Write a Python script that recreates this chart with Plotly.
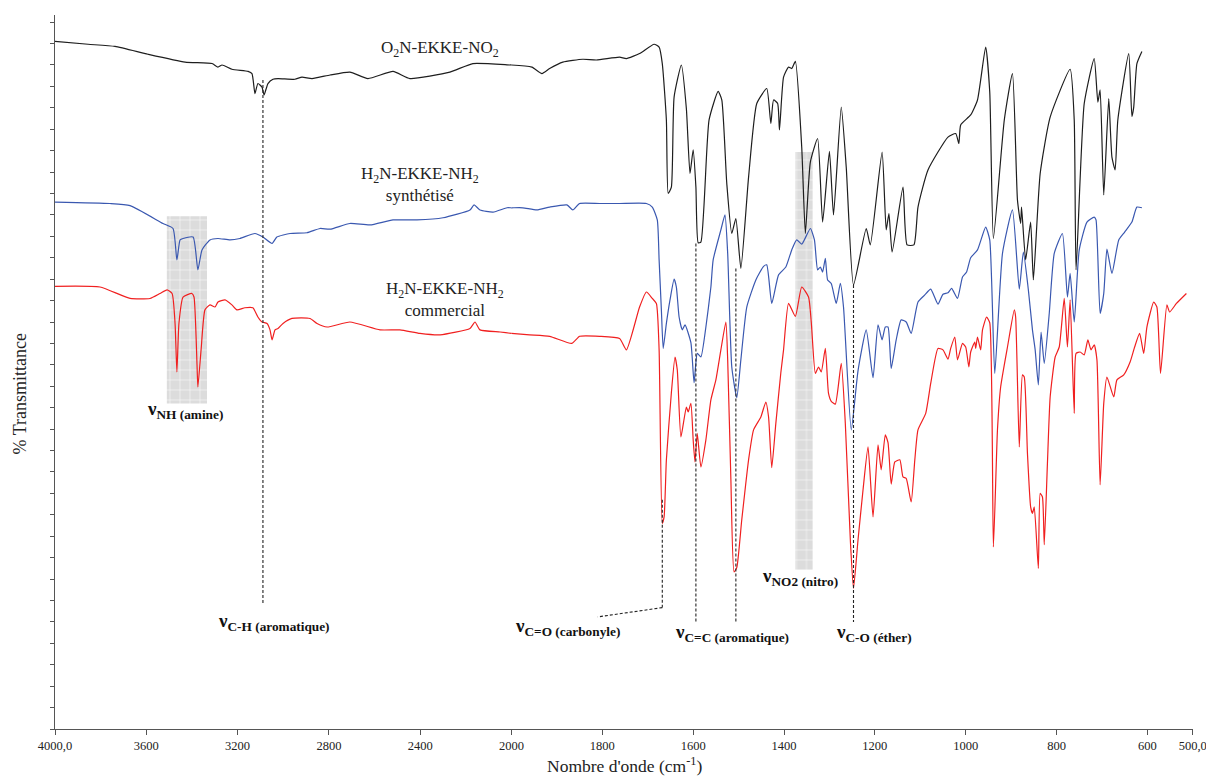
import plotly.graph_objects as go

# wavenumbers (cm-1) and % transmittance
black_wn = [4000, 3855, 3737, 3593, 3430, 3312, 3286, 3268, 3225, 3154, 3137, 3124, 3111, 3093, 3084,
            3067, 3045, 3023, 2949, 2918, 2874, 2795, 2708, 2629, 2519, 2445, 2270, 2169, 2007, 2000,
            1955, 1933, 1916, 1887, 1843, 1813, 1762, 1747, 1718, 1686, 1675, 1668, 1659, 1655, 1648,
            1642, 1626, 1615, 1607, 1600, 1594, 1589, 1583, 1565, 1545, 1537, 1526, 1515, 1506, 1495,
            1478, 1460, 1438, 1429, 1423, 1414, 1410, 1401, 1390, 1383, 1375, 1361, 1353, 1342, 1326,
            1315, 1300, 1291, 1274, 1263, 1247, 1219, 1210, 1184, 1175, 1169, 1162, 1138, 1129, 1114,
            1105, 1083, 1039, 1022, 1015, 1011, 989, 974, 956, 947, 939, 915, 897, 886, 879, 877, 868,
            857, 851, 836, 814, 770, 761, 757, 739, 717, 709, 704, 696, 685, 678, 671, 665, 641, 634,
            630, 623, 612]
black_t = [96.3, 95.9, 95.6, 94.5, 93.4, 93.2, 92.7, 93.0, 92.4, 92.1, 91.8, 89.0, 90.4, 89.9, 88.8,
           90.4, 91.0, 91.1, 91.0, 91.3, 91.1, 91.6, 92.0, 91.1, 92.1, 91.1, 92.0, 93.2, 93.0, 93.0,
           92.7, 91.8, 92.5, 93.4, 93.8, 93.7, 94.1, 93.9, 94.6, 95.9, 95.5, 93.2, 85.3, 75.0, 75.9,
           88.5, 93.0, 86.9, 77.8, 81.1, 75.9, 68.1, 68.2, 85.3, 89.3, 88.1, 76.4, 69.4, 71.5, 64.5,
           77.3, 87.6, 89.7, 84.8, 88.1, 87.6, 83.9, 91.3, 92.7, 92.5, 93.5, 81.5, 69.4, 79.4, 82.7,
           71.0, 80.9, 72.0, 87.1, 78.7, 62.2, 70.1, 67.8, 80.8, 69.9, 72.2, 66.8, 75.9, 67.8, 67.8,
           73.1, 78.3, 82.9, 83.4, 82.0, 84.6, 86.0, 88.1, 95.5, 89.2, 68.7, 85.3, 91.8, 74.1, 70.8,
           73.1, 65.7, 71.0, 62.9, 77.8, 85.7, 92.4, 85.3, 64.3, 87.6, 93.9, 87.8, 89.5, 74.8, 88.3,
           80.1, 78.3, 85.3, 94.6, 85.8, 87.1, 93.2, 94.9]

blue_wn = [4000, 3759, 3671, 3527, 3483, 3466, 3452, 3439, 3395, 3374, 3356, 3321, 3286, 3233, 3190,
           3124, 3089, 3049, 3028, 2970, 2896, 2839, 2795, 2708, 2620, 2519, 2414, 2300, 2182, 2164,
           2138, 2081, 2020, 2000, 1975, 1944, 1916, 1878, 1865, 1850, 1806, 1762, 1703, 1690, 1679,
           1675, 1670, 1666, 1659, 1651, 1642, 1637, 1631, 1624, 1618, 1605, 1598, 1591, 1583, 1572,
           1561, 1556, 1539, 1530, 1524, 1515, 1504, 1495, 1482, 1462, 1445, 1438, 1427, 1412, 1396,
           1383, 1372, 1361, 1342, 1333, 1326, 1320, 1315, 1309, 1304, 1296, 1285, 1276, 1269, 1252,
           1237, 1219, 1204, 1193, 1184, 1177, 1171, 1164, 1153, 1142, 1131, 1120, 1105, 1090, 1077,
           1061, 1050, 1039, 1031, 1018, 1007, 998, 989, 974, 956, 947, 936, 919, 897, 882, 873, 862,
           853, 847, 840, 834, 827, 816, 805, 787, 776, 770, 761, 750, 733, 717, 713, 704, 696, 689,
           678, 663, 650, 634, 623, 612]
blue_t = [73.8, 73.6, 73.3, 70.8, 70.1, 65.7, 68.5, 68.7, 68.9, 64.3, 67.1, 68.5, 68.7, 68.5, 68.7,
          69.4, 68.9, 68.0, 68.9, 69.4, 69.5, 70.1, 70.0, 70.8, 70.6, 71.3, 71.3, 71.6, 72.7, 73.4,
          72.7, 72.4, 73.0, 73.0, 73.0, 72.7, 73.1, 73.4, 72.7, 73.6, 73.6, 73.6, 73.6, 73.1, 71.3,
          65.7, 58.7, 53.3, 56.8, 60.1, 63.0, 61.9, 57.7, 55.9, 56.6, 54.1, 48.5, 52.6, 52.1, 56.3,
          61.9, 65.7, 69.9, 72.0, 66.6, 50.7, 46.4, 51.7, 59.1, 62.9, 64.8, 65.0, 59.6, 63.6, 64.7,
          67.1, 68.5, 67.9, 70.1, 68.5, 64.3, 64.7, 64.0, 65.9, 62.9, 62.4, 59.6, 62.4, 59.1, 41.9,
          50.2, 55.9, 49.2, 56.6, 54.5, 56.3, 56.3, 50.5, 54.5, 57.3, 57.0, 55.4, 59.8, 60.8, 61.6,
          59.5, 60.9, 61.1, 61.7, 60.3, 63.3, 64.0, 66.0, 67.1, 70.3, 68.5, 49.8, 66.6, 72.7, 61.6,
          66.8, 61.5, 55.9, 53.1, 48.2, 55.6, 51.2, 58.2, 66.6, 69.4, 60.5, 63.8, 57.0, 67.1, 71.0,
          71.7, 71.3, 58.2, 61.0, 67.2, 63.8, 68.5, 69.6, 71.0, 73.1, 73.0]

red_wn = [4000, 3803, 3671, 3584, 3540, 3509, 3487, 3474, 3466, 3457, 3439, 3400, 3391, 3378, 3374,
          3360, 3343, 3321, 3299, 3286, 3255, 3225, 3203, 3168, 3133, 3111, 3093, 3071, 3058, 3049,
          3036, 3023, 3001, 2962, 2883, 2852, 2808, 2708, 2576, 2489, 2401, 2313, 2182, 2160, 2138,
          2050, 2000, 1960, 1916, 1867, 1850, 1806, 1762, 1747, 1718, 1703, 1690, 1681, 1675, 1668,
          1664, 1659, 1648, 1640, 1635, 1627, 1615, 1611, 1605, 1600, 1596, 1591, 1583, 1572, 1561,
          1550, 1539, 1528, 1524, 1517, 1510, 1504, 1493, 1478, 1467, 1451, 1440, 1434, 1427, 1418,
          1407, 1401, 1390, 1375, 1361, 1346, 1340, 1331, 1324, 1318, 1309, 1302, 1296, 1287, 1274,
          1265, 1254, 1247, 1237, 1226, 1215, 1204, 1193, 1186, 1177, 1171, 1164, 1156, 1145, 1138,
          1131, 1120, 1112, 1105, 1088, 1077, 1061, 1050, 1039, 1033, 1024, 1018, 1007, 1000, 993,
          989, 980, 978, 974, 967, 963, 954, 947, 939, 930, 923, 908, 893, 890, 882, 875, 871, 864,
          857, 853, 849, 840, 836, 831, 827, 820, 814, 803, 794, 783, 776, 770, 761, 757, 748, 739,
          731, 724, 717, 711, 704, 696, 689, 674, 667, 652, 638, 628, 617, 608, 601, 586, 579, 571,
          557, 551, 536, 514]
red_t = [62.0, 61.9, 60.3, 60.3, 61.0, 61.5, 61.0, 56.8, 50.0, 56.8, 60.5, 61.0, 60.5, 51.2, 47.9,
         53.1, 58.7, 59.4, 59.1, 59.8, 60.1, 59.4, 58.7, 59.0, 59.0, 57.7, 57.0, 56.8, 55.9, 54.5,
         55.9, 56.1, 56.8, 57.5, 57.5, 56.8, 56.3, 57.0, 55.9, 55.9, 55.4, 55.2, 56.1, 57.0, 55.9,
         55.6, 55.4, 55.2, 55.0, 54.0, 55.0, 55.0, 54.7, 53.1, 59.1, 61.2, 60.3, 59.6, 53.1, 28.8,
         29.7, 37.7, 47.1, 52.1, 50.3, 40.9, 45.1, 44.4, 45.6, 40.5, 37.4, 41.4, 36.7, 40.5, 46.1,
         48.9, 53.1, 57.0, 51.7, 35.0, 22.0, 22.6, 29.3, 37.7, 41.9, 43.7, 45.8, 43.7, 36.6, 42.8,
         49.9, 53.1, 59.6, 57.8, 61.9, 60.5, 57.0, 49.8, 50.7, 50.0, 53.3, 47.0, 45.9, 45.5, 51.2,
         42.8, 26.5, 19.7, 26.5, 33.5, 39.5, 29.7, 39.8, 36.3, 41.2, 40.1, 34.3, 37.4, 37.7, 35.3,
         35.1, 31.8, 37.7, 41.9, 44.2, 48.4, 53.3, 53.1, 51.8, 53.3, 54.9, 51.7, 54.0, 53.5, 50.7,
         52.8, 54.2, 53.3, 54.9, 53.1, 55.9, 57.7, 56.9, 25.5, 41.9, 47.9, 53.5, 58.7, 57.7, 39.5,
         49.6, 49.3, 38.6, 31.1, 30.2, 31.1, 22.5, 33.0, 32.5, 25.8, 37.2, 46.5, 52.1, 53.5, 60.3,
         53.5, 60.1, 44.2, 52.6, 52.8, 52.4, 54.5, 53.1, 53.8, 51.7, 34.2, 45.6, 49.3, 46.5, 48.9,
         49.6, 51.4, 53.5, 55.4, 52.6, 56.3, 59.8, 59.1, 49.8, 59.4, 58.4, 59.6, 61.0]

left_ticks = [4000, 3600, 3200, 2800, 2400]
left_labels = ["4000,0", "3600", "3200", "2800", "2400"]
right_ticks = [2000, 1800, 1600, 1400, 1200, 1000, 800, 600, 500]
right_labels = ["2000", "1800", "1600", "1400", "1200", "1000", "800", "600", "500,0"]

# band markers: (wavenumber, T top, T bottom)
band_lines = [(3089, 90.9, 17.4), (1668, 32.1, 17.0), (1594, 68.0, 15.0), (1506, 64.5, 15.0), (1247, 62.2, 15.0)]
# highlighted zones: (wn high, wn low, T top, T bottom)
nh_box = (3510, 3334, 71.8, 45.6)
no2_box = (1375, 1337, 80.8, 22.3)

FONT = "Liberation Serif"
COLORS = {"black": "#1e1e1e", "blue": "#3a58b0", "red": "#f02020"}

fig = go.Figure()


def add_series(wn, t, color):
    pts = list(zip(wn, t))
    n_left = sum(1 for w in wn if w >= 2000)
    # each half runs one point past the 2000 break so the clipped lines meet
    left = pts[:n_left + 1]
    right = pts[n_left - 2:]
    for seg, xa in ((left, "x"), (right, "x2")):
        fig.add_trace(go.Scatter(
            x=[p[0] for p in seg], y=[p[1] for p in seg],
            xaxis=xa, yaxis="y", mode="lines",
            line=dict(color=color, width=1.2, shape="spline", smoothing=0.5),
            showlegend=False, hoverinfo="skip",
        ))


add_series(black_wn, black_t, COLORS["black"])
add_series(blue_wn, blue_t, COLORS["blue"])
add_series(red_wn, red_t, COLORS["red"])

# grey hatched zones drawn over the spectra
for box, xa in ((nh_box, "x"), (no2_box, "x2")):
    fig.add_trace(go.Bar(
        x=[(box[0] + box[1]) / 2], y=[box[2] - box[3]], base=[box[3]], width=[box[0] - box[1]],
        xaxis=xa, yaxis="y", opacity=0.6, showlegend=False, hoverinfo="skip",
        marker=dict(color="#c4c4c4", line=dict(width=0),
                    pattern=dict(shape="+", fgcolor="#f4f4f4", bgcolor="#c4c4c4",
                                 size=10, solidity=0.12, fillmode="replace")),
    ))

dash_style = dict(color="#222222", width=1.1, dash="3px,2px")
for wn, top, bottom in band_lines:
    xr = "x" if wn > 2000 else "x2"
    fig.add_shape(type="line", xref=xr, yref="y", x0=wn, x1=wn, y0=top, y1=bottom, line=dash_style)
# leader from the carbonyl line to its label
fig.add_shape(type="line", xref="x2", yref="y", x0=1668, x1=1810, y0=17.0, y1=15.7, line=dash_style)

band_labels = [
    ("x", 3041, 15.0, "C-H (aromatique)"),
    ("x", 3430, 44.7, "NH (amine)"),
    ("x2", 1876, 14.3, "C=O (carbonyle)"),
    ("x2", 1515, 13.4, "C=C (aromatique)"),
    ("x2", 1202, 13.4, "C-O (éther)"),
    ("x2", 1364, 21.3, "NO2 (nitro)"),
]
for xr, x, y, sub in band_labels:
    fig.add_annotation(xref=xr, yref="y", x=x, y=y, showarrow=False,
                       text=f"<b>ν<sub>{sub}</sub></b>",
                       font=dict(family=FONT, size=19, color="#111111"))

series_labels = [
    ("x", 2313, 95.3, "O<sub>2</sub>N-EKKE-NO<sub>2</sub>"),
    ("x", 2401, 76.2, "H<sub>2</sub>N-EKKE-NH<sub>2</sub><br>synthétisé"),
    ("x", 2291, 60.1, "H<sub>2</sub>N-EKKE-NH<sub>2</sub><br>commercial"),
]
for xr, x, y, txt in series_labels:
    fig.add_annotation(xref=xr, yref="y", x=x, y=y, showarrow=False, text=txt,
                       font=dict(family=FONT, size=17, color="#222222"))

fig.add_annotation(xref="paper", yref="paper", x=0.5, y=0, yshift=-36, yanchor="middle", showarrow=False,
                   text="Nombre d'onde (cm<sup>-1</sup>)", font=dict(family=FONT, size=17.5, color="#222222"))
fig.add_annotation(xref="paper", yref="paper", x=0, xshift=-35, xanchor="center", y=0.47, showarrow=False,
                   textangle=-90, text="% Transmittance", font=dict(family=FONT, size=18, color="#222222"))

axis_common = dict(showline=True, linecolor="#555555", linewidth=1, ticks="outside", ticklen=5,
                   tickcolor="#555555", showgrid=False, zeroline=False, ticklabeloverflow="allow",
                   automargin=False, tickfont=dict(family=FONT, size=12.5, color="#222222"))
split = 456.5 / 1138
fig.update_layout(
    width=1206, height=776,
    margin=dict(l=55, r=13, t=15, b=47, autoexpand=False),
    paper_bgcolor="white", plot_bgcolor="white",
    showlegend=False, barmode="overlay",
    xaxis=dict(domain=[0, split], range=[4000, 2000], tickvals=left_ticks, ticktext=left_labels,
               anchor="y", **axis_common),
    xaxis2=dict(domain=[split, 1], range=[2000, 499.5], tickvals=right_ticks, ticktext=right_labels,
                anchor="y", **axis_common),
    yaxis=dict(range=[0, 100], tick0=0, dtick=3, showticklabels=False, showline=True,
               linecolor="#555555", linewidth=1, ticks="outside", ticklen=4, tickcolor="#555555",
               showgrid=False, zeroline=False),
)

fig.write_html("out.html", post_script="document.body.style.margin='0';",
               config={"displayModeBar": False})
